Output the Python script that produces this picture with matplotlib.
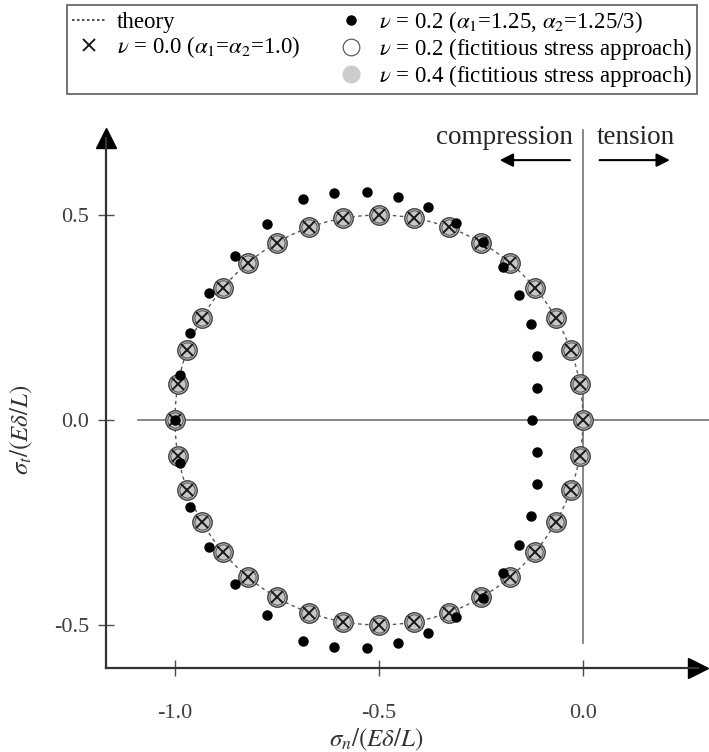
import matplotlib
matplotlib.use('Agg')
import matplotlib.pyplot as plt
from matplotlib.lines import Line2D
from matplotlib.patches import Circle

plt.rcParams['font.family'] = 'serif'
plt.rcParams['font.serif'] = ['Liberation Serif', 'DejaVu Serif']
plt.rcParams['mathtext.fontset'] = 'stix'

# theory: Mohr circle
theory_center = (-0.5, 0.0)
theory_radius = 0.5

# nu = 0.0, nu = 0.2 / 0.4 (fictitious stress) -> all on the theory circle
sn_circ = [0.0, -0.008, -0.030, -0.067, -0.117, -0.179, -0.250, -0.329, -0.413,
           -0.500, -0.587, -0.671, -0.750, -0.821, -0.883, -0.933, -0.970, -0.992,
           -1.000, -0.992, -0.970, -0.933, -0.883, -0.821, -0.750, -0.671, -0.587,
           -0.500, -0.413, -0.329, -0.250, -0.179, -0.117, -0.067, -0.030, -0.008]
st_circ = [0.0, 0.087, 0.171, 0.250, 0.321, 0.383, 0.433, 0.470, 0.492,
           0.500, 0.492, 0.470, 0.433, 0.383, 0.321, 0.250, 0.171, 0.087,
           0.0, -0.087, -0.171, -0.250, -0.321, -0.383, -0.433, -0.470, -0.492,
           -0.500, -0.492, -0.470, -0.433, -0.383, -0.321, -0.250, -0.171, -0.087]

# nu = 0.2 (alpha1=1.25, alpha2=1.25/3)
sn_alpha = [-0.124, -0.112, -0.113, -0.128, -0.157, -0.197, -0.244, -0.310, -0.379,
            -0.453, -0.530, -0.610, -0.687, -0.775, -0.852, -0.916, -0.962, -0.988,
            -1.000, -0.988, -0.962, -0.916, -0.852, -0.775, -0.687, -0.610, -0.530,
            -0.453, -0.379, -0.310, -0.244, -0.197, -0.157, -0.128, -0.113, -0.112]
st_alpha = [0.0, 0.077, 0.156, 0.234, 0.306, 0.374, 0.435, 0.481, 0.520,
            0.545, 0.557, 0.554, 0.540, 0.478, 0.400, 0.310, 0.213, 0.110,
            0.0, -0.106, -0.213, -0.309, -0.400, -0.476, -0.538, -0.554, -0.556,
            -0.545, -0.520, -0.481, -0.435, -0.374, -0.306, -0.234, -0.156, -0.077]

xticks = [-1.0, -0.5, 0.0]
yticks = [-0.5, 0.0, 0.5]

fig = plt.figure(figsize=(7.09, 7.52), dpi=100)
ax = fig.add_axes([0.1495, 0.1117, 0.835, 0.7048])
ax.set_xlim(-1.169, 0.282)
ax.set_ylim(-0.605, 0.688)

# reference lines
ax.plot([-1.09, 0.31], [0, 0], color='0.45', lw=1.2, clip_on=False, zorder=1)
ax.plot([0, 0], [-0.544, 0.707], color='0.45', lw=1.2, clip_on=False, zorder=1)

ls_theory = (0, (2.5, 2.5))
ax.add_patch(Circle(theory_center, theory_radius, fill=False, ls=ls_theory,
                    lw=1.0, ec='0.35', zorder=2))

ax.plot(sn_circ, st_circ, 'o', ms=14, mfc='0.78', mec='0.25', mew=1.0, ls='none', zorder=3)
ax.plot(sn_circ, st_circ, 'o', ms=11, mfc='none', mec='0.35', mew=0.8, ls='none', zorder=4)
ax.plot(sn_circ, st_circ, 'x', ms=9, mec='0.1', mew=1.4, ls='none', zorder=5)
ax.plot(sn_alpha, st_alpha, 'o', ms=6.5, color='k', ls='none', zorder=6)

# axes with arrow heads
for s in ['top', 'right']:
    ax.spines[s].set_visible(False)
for s in ['left', 'bottom']:
    ax.spines[s].set_linewidth(1.6)
    ax.spines[s].set_color('0.2')
ax.plot(1, 0, '>', ms=15, color='k', transform=ax.transAxes, clip_on=False)
ax.plot(0, 1, '^', ms=15, color='k', transform=ax.transAxes, clip_on=False)

ax.set_xticks(xticks)
ax.set_yticks(yticks)
ax.set_xticklabels(['%.1f' % v for v in xticks])
ax.set_yticklabels(['%.1f' % v for v in yticks])
ax.tick_params(axis='both', direction='inout', length=12, width=1.0, color='0.3',
               labelsize=16, labelcolor='0.25')
ax.tick_params(axis='x', pad=20)
ax.tick_params(axis='y', pad=6)

ax.set_xlabel(r'$\sigma_n/(E\delta/L)$', fontsize=18, color='0.2')
ax.xaxis.set_label_coords(0.456, -0.11)
ax.set_ylabel(r'$\sigma_t/(E\delta/L)$', fontsize=18, color='0.2')
ax.yaxis.set_label_coords(-0.12, 0.449)

# compression / tension
ax.text(-0.025, 0.688, 'compression', ha='right', va='center', fontsize=19.5, color='0.15')
ax.text(0.034, 0.688, 'tension', ha='left', va='center', fontsize=19.5, color='0.15')
ax.annotate('', xy=(-0.211, 0.634), xytext=(-0.025, 0.634),
            arrowprops=dict(arrowstyle='-|>', color='k', lw=1.5, mutation_scale=20))
ax.annotate('', xy=(0.22, 0.634), xytext=(0.034, 0.634),
            arrowprops=dict(arrowstyle='-|>', color='k', lw=1.5, mutation_scale=20))

handles = [
    Line2D([], [], ls=(0, (1.5, 1.5)), color='0.2', lw=1.2),
    Line2D([], [], marker='x', ls='none', ms=9, mec='0.1', mew=1.4),
    Line2D([], [], ls='none'),
    Line2D([], [], marker='o', ls='none', ms=6.5, color='k'),
    Line2D([], [], marker='o', ls='none', ms=12, mfc='white', mec='0.3', mew=0.8),
    Line2D([], [], marker='o', ls='none', ms=12, mfc='0.8', mec='0.8'),
]
labels = [
    'theory',
    r'$\nu$ = 0.0 ($\alpha_1$=$\alpha_2$=1.0)',
    '',
    r'$\nu$ = 0.2 ($\alpha_1$=1.25, $\alpha_2$=1.25/3)',
    r'$\nu$ = 0.2 (fictitious stress approach)',
    r'$\nu$ = 0.4 (fictitious stress approach)',
]
leg = fig.legend(handles, labels, ncol=2, loc='upper left',
                 bbox_to_anchor=(0.095, 0.994), fontsize=16.5, frameon=True,
                 fancybox=False, edgecolor='0.2', handlelength=1.5,
                 handletextpad=0.45, columnspacing=1.5, labelspacing=0.05,
                 borderpad=0.2, borderaxespad=0)
leg.get_frame().set_linewidth(1.2)

plt.savefig('out.png', dpi=100)
